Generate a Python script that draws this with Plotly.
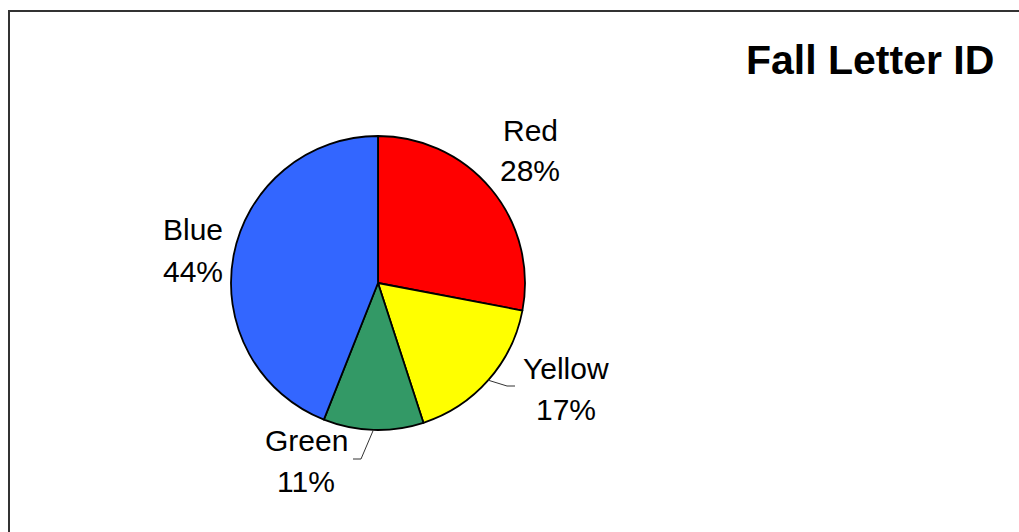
import math
import plotly.graph_objects as go

# Fall letter identification results by reading group
groups = ["Red", "Yellow", "Green", "Blue"]
shares = [28, 17, 11, 44]
slice_colors = ["#FF0000", "#FFFF00", "#339966", "#3366FF"]
title_text = "Fall Letter ID"

W, H = 1019, 532
CX, CY, R = 378, 283, 147          # pie centre and radius in pixels


def px(x):
    return x / W


def py(y):
    return 1 - y / H


fig = go.Figure(
    go.Pie(
        labels=groups,
        values=shares,
        sort=False,
        direction="clockwise",
        rotation=0,
        marker=dict(colors=slice_colors, line=dict(color="#000000", width=1.8)),
        textinfo="none",
        hoverinfo="label+percent",
        showlegend=False,
        domain=dict(x=[px(CX - R), px(CX + R)], y=[py(CY + R), py(CY - R)]),
    )
)

# label anchor positions (pixel centres of name line and percentage line)
label_pos = {
    "Red": (530, 130, 170),
    "Yellow": (566, 368, 409),
    "Green": (306, 440, 481),
    "Blue": (193, 230, 271),
}
font = dict(family="Liberation Sans, Arial, sans-serif", size=30, color="#000000")

total = sum(shares)
annotations = []
for g, v in zip(groups, shares):
    x, y1, y2 = label_pos[g]
    pct = f"{round(100 * v / total)}%"
    annotations.append(dict(x=px(x), y=py(y1), xref="paper", yref="paper", text=g,
                            showarrow=False, xanchor="center", yanchor="middle", font=font))
    annotations.append(dict(x=px(x), y=py(y2), xref="paper", yref="paper", text=pct,
                            showarrow=False, xanchor="center", yanchor="middle", font=font))

annotations.append(dict(x=px(996), y=py(60), xref="paper", yref="paper", text=f"<b>{title_text}</b>",
                        showarrow=False, xanchor="right", yanchor="middle",
                        font=dict(family="Liberation Sans, Arial, sans-serif", size=41, color="#000000")))

# leader lines from slice mid-angles for the small labelled slices
shapes = []
cum = 0
mid_angles = {}
for g, v in zip(groups, shares):
    mid_angles[g] = (cum + v / 2) / total * 360
    cum += v

leaders = {"Yellow": [(507, 386), (515, 386)], "Green": [(361, 459), (353, 459)]}
for g, pts in leaders.items():
    a = math.radians(mid_angles[g])
    sx, sy = CX + R * math.sin(a), CY - R * math.cos(a)
    path = f"M {px(sx)} {py(sy)} " + " ".join(f"L {px(x)} {py(y)}" for x, y in pts)
    shapes.append(dict(type="path", xref="paper", yref="paper", path=path,
                       line=dict(color="#333333", width=1)))

# chart frame (top and left edges visible)
shapes.append(dict(type="rect", xref="paper", yref="paper",
                   x0=px(9), x1=px(W + 20), y0=py(H + 20), y1=py(11),
                   line=dict(color="#333333", width=2), fillcolor="rgba(0,0,0,0)"))

fig.update_layout(
    width=W,
    height=H,
    margin=dict(l=0, r=0, t=0, b=0),
    paper_bgcolor="#FFFFFF",
    plot_bgcolor="#FFFFFF",
    annotations=annotations,
    shapes=shapes,
)

fig.write_html("out.html")
